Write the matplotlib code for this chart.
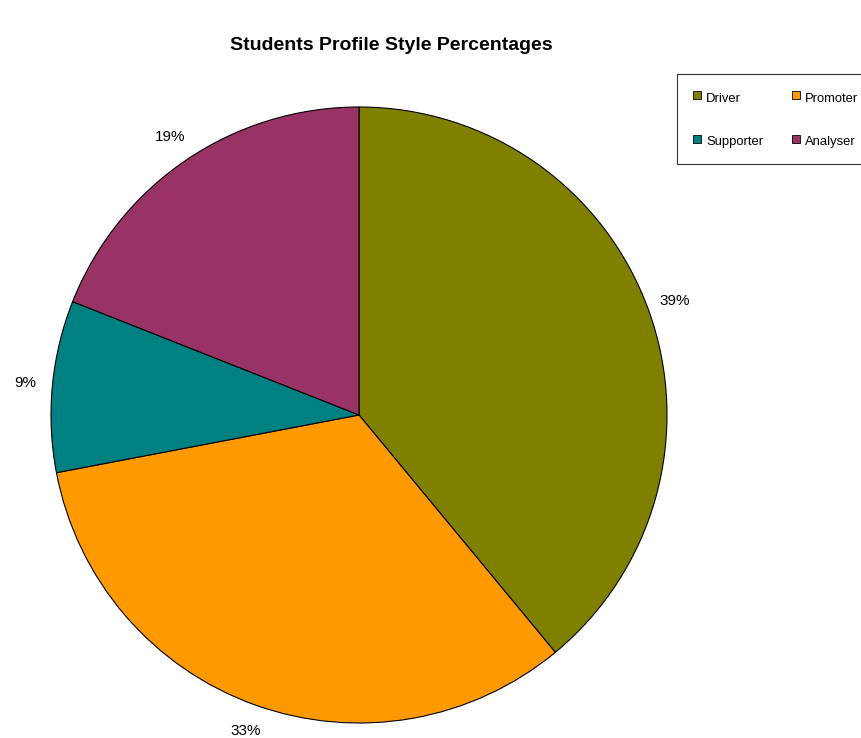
import numpy as np
import matplotlib
matplotlib.use("Agg")
import matplotlib.pyplot as plt
from matplotlib.lines import Line2D

plt.rcParams['font.family'] = ['Liberation Sans', 'DejaVu Sans']

# data
categories = ['Driver', 'Promoter', 'Supporter', 'Analyser']
percentages = [39, 33, 9, 19]
colors = ['#808000', '#FF9900', '#008080', '#993366']

W, H = 862, 738
fig = plt.figure(figsize=(W / 100, H / 100), dpi=100)

# pie centre ~ (359, 415) px, radius ~ 308 px
cx, cy, r = 359, 415, 308
ax = fig.add_axes([(cx - r) / W, (H - cy - r) / H, 2 * r / W, 2 * r / H])

wedges, _ = ax.pie(percentages, colors=colors, startangle=90, counterclock=False,
                   radius=1, wedgeprops=dict(edgecolor='black', linewidth=0.8))
ax.set_xlim(-1, 1)
ax.set_ylim(-1, 1)
ax.set_aspect('equal')
ax.axis('off')

# percentage labels outside the slices
for w, p in zip(wedges, percentages):
    mid = np.deg2rad((w.theta1 + w.theta2) / 2)
    ax.text(1.09 * np.cos(mid), 1.09 * np.sin(mid), f'{p}%',
            ha='center', va='center', fontsize=11, clip_on=False)

fig.text(391 / W, 1 - 46 / H, 'Students Profile Style Percentages',
         ha='center', va='center', fontsize=14, fontweight='bold')

handles = [Line2D([], [], marker='s', linestyle='none', markersize=6,
                  markerfacecolor=c, markeredgecolor='black', markeredgewidth=0.6)
           for c in colors]
# order for 2 columns filled column-wise: Driver, Supporter | Promoter, Analyser
order = [0, 2, 1, 3]
leg = fig.legend([handles[i] for i in order], [categories[i] for i in order],
                 ncol=2, loc='upper left', bbox_to_anchor=(677 / W, 1 - 74 / H),
                 fontsize=9.4, frameon=True, fancybox=False, edgecolor='black',
                 handlelength=0.8, handleheight=1.6, handletextpad=0.3,
                 columnspacing=2.1, labelspacing=2.05, borderpad=1.15,
                 borderaxespad=0)
leg.get_frame().set_linewidth(0.8)

fig.savefig('out.png', dpi=100)
